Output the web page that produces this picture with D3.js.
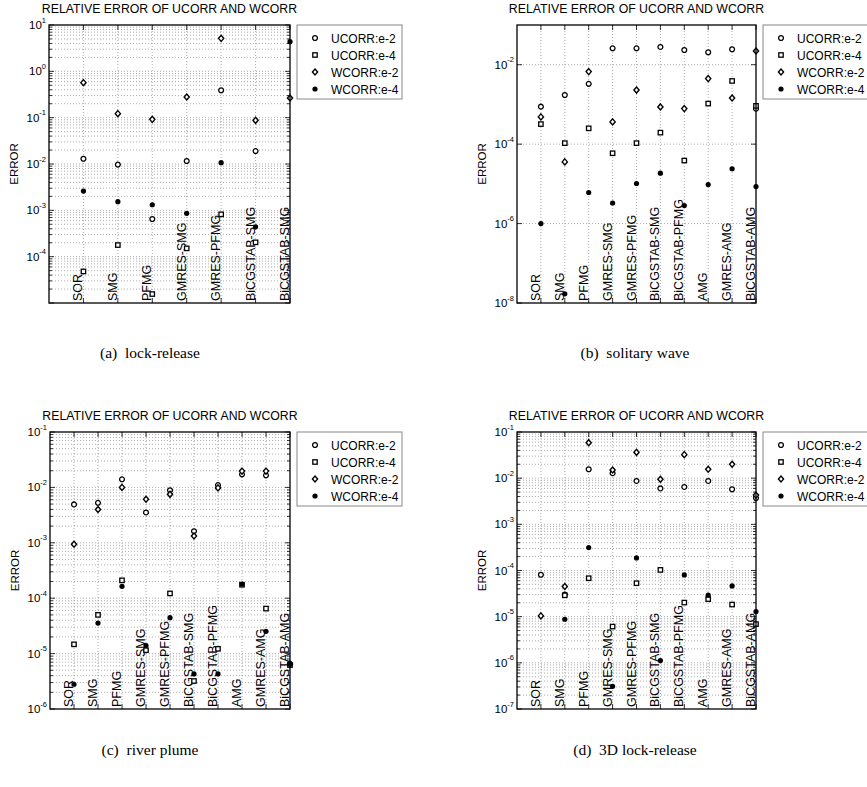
<!DOCTYPE html>
<meta charset="utf-8">
<title>Relative error of UCORR and WCORR</title>
<style>
    body { margin: 0; background: #fff; }
    text { font-family: "Liberation Sans", Arial, Helvetica, sans-serif; }
    .caption { font-family: "Liberation Serif", "Times New Roman", serif; font-size: 15.5px; }
    .grid { stroke: #8a8a8a; stroke-width: 0.7; stroke-dasharray: 1,2; fill: none; }
</style>
<body>
<script src="https://cdn.jsdelivr.net/npm/d3@7"></script>
<script>
    const width = 867, height = 787;

    // categories
    const catsA = ["SOR", "SMG", "PFMG", "GMRES-SMG", "GMRES-PFMG", "BiCGSTAB-SMG", "BiCGSTAB-SMG"];
    const cats10 = ["SOR", "SMG", "PFMG", "GMRES-SMG", "GMRES-PFMG", "BiCGSTAB-SMG",
        "BiCGSTAB-PFMG", "AMG", "GMRES-AMG", "BiCGSTAB-AMG"];
    const seriesNames = ["UCORR:e-2", "UCORR:e-4", "WCORR:e-2", "WCORR:e-4"];

    // (a) lock-release
    const aUcorr2 = [0.013, 0.0097, 6.5e-4, 0.0116, 0.39, 0.019, null];
    const aUcorr4 = [4.8e-5, 1.78e-4, 1.56e-5, 1.51e-4, 8.2e-4, 2.04e-4, null];
    const aWcorr2 = [0.57, 0.122, 0.092, 0.279, 5.15, 0.0877, 0.266];
    const aWcorr4 = [0.0026, 0.00154, 0.00132, 8.6e-4, 0.0107, 4.4e-4, 4.36];

    // (b) solitary wave
    const bUcorr2 = [8.8e-4, 1.73e-3, 3.3e-3, 0.0259, 0.0259, 0.028, 0.0235, 0.0206, 0.0245, 7.8e-4];
    const bUcorr4 = [3.2e-4, 1.06e-4, 2.5e-4, 5.9e-5, 1.06e-4, 1.95e-4, 3.86e-5, 1.05e-3, 3.9e-3, 9.2e-4];
    const bWcorr2 = [4.85e-4, 3.57e-5, 6.7e-3, 3.63e-4, 2.3e-3, 8.65e-4, 7.85e-4, 4.47e-3, 1.45e-3, 0.0222];
    const bWcorr4 = [1e-6, 1.7e-8, 6.05e-6, 3.3e-6, 1.02e-5, 1.86e-5, 2.85e-6, 9.6e-6, 2.4e-5, 8.55e-6];

    // (c) river plume
    const cUcorr2 = [4.93e-3, 5.27e-3, 0.014, 3.53e-3, 8.9e-3, 1.62e-3, 0.011, 0.0172, 0.0165, 6.4e-6];
    const cUcorr4 = [1.47e-5, 5.0e-5, 2.1e-4, 1.15e-5, 1.22e-4, 3.2e-6, 1.22e-5, 1.75e-4, 6.5e-5, 6.2e-6];
    const cWcorr2 = [9.4e-4, 4.0e-3, 0.01, 6.1e-3, 7.5e-3, 1.33e-3, 9.8e-3, 0.0197, 0.0197, 6.5e-6];
    const cWcorr4 = [2.8e-6, 3.56e-5, 1.64e-4, 1.4e-5, 4.45e-5, 4.3e-6, 4.3e-6, 1.8e-4, 2.52e-5, 6.6e-6];

    // (d) 3D lock-release
    const dUcorr2 = [8.1e-5, 3.0e-5, 0.0156, 0.0128, 8.7e-3, 6.0e-3, 6.45e-3, 8.7e-3, 5.75e-3, 3.7e-3];
    const dUcorr4 = [null, 2.9e-5, 6.8e-5, 6.1e-6, 5.3e-5, 1.03e-4, 2.02e-5, 2.4e-5, 1.83e-5, 6.9e-6];
    const dWcorr2 = [1.04e-5, 4.5e-5, 0.0587, 0.015, 0.0363, 9.5e-3, 0.0323, 0.0156, 0.02, 4.3e-3];
    const dWcorr4 = [null, 8.8e-6, 3.13e-4, 3.1e-7, 1.87e-4, 1.12e-6, 8.0e-5, 2.92e-5, 4.64e-5, 1.29e-5];

    // y tick exponents that get a label
    const aExps = [1, 0, -1, -2, -3, -4];
    const bExps = [-2, -4, -6, -8];
    const cExps = [-1, -2, -3, -4, -5, -6];
    const dExps = [-1, -2, -3, -4, -5, -6, -7];

    const captions = ["(a)\u00a0 lock-release", "(b)\u00a0 solitary wave", "(c)\u00a0 river plume", "(d)\u00a0 3D lock-release"];

    const svg = d3.select("body").append("svg")
        .attr("width", width).attr("height", height);

    // marker drawing, one per series
    function marker(g, k) {
        if (k === 0) g.append("circle").attr("r", 2.4).attr("fill", "#fff").attr("stroke", "#000").attr("stroke-width", 1.3);
        if (k === 1) g.append("rect").attr("x", -2.2).attr("y", -2.2).attr("width", 4.4).attr("height", 4.4)
            .attr("fill", "#fff").attr("stroke", "#000").attr("stroke-width", 1.3);
        if (k === 2) g.append("path").attr("d", "M0,-3L2.6,0L0,3L-2.6,0Z")
            .attr("fill", "#fff").attr("stroke", "#000").attr("stroke-width", 1.4);
        if (k === 3) g.append("circle").attr("r", 2.6).attr("fill", "#000");
    }

    function panel(p) {
        const x = d3.scaleLinear().domain([0, p.cats.length]).range([p.x0, p.x1]);
        const y = d3.scaleLog().domain(p.domain).range([p.y1, p.y0]);
        const g = svg.append("g");

        // horizontal grid
        const majors = p.exps.map(e => Math.pow(10, e));
        const gridVals = p.minor ? y.ticks() : majors;
        g.selectAll(".hg").data(gridVals.filter(v => y(v) > p.y0 + 0.5 && y(v) < p.y1 - 0.5))
            .join("line").attr("class", "grid")
            .attr("x1", p.x0).attr("x2", p.x1)
            .attr("y1", d => y(d)).attr("y2", d => y(d));

        // vertical grid at categories
        g.selectAll(".vg").data(p.cats.slice(0, p.cats.length - 1))
            .join("line").attr("class", "grid")
            .attr("x1", (d, i) => x(i + 1)).attr("x2", (d, i) => x(i + 1))
            .attr("y1", p.y0).attr("y2", p.y1);

        // y ticks, major and minor, both sides
        const tickVals = p.minor ? y.ticks() : majors;
        tickVals.forEach(v => {
            const isMajor = Math.abs(Math.log10(v) - Math.round(Math.log10(v))) < 1e-6;
            const len = isMajor ? 5 : 3;
            g.append("line").attr("x1", p.x0).attr("x2", p.x0 + len)
                .attr("y1", y(v)).attr("y2", y(v)).attr("stroke", "#000").attr("stroke-width", 0.8);
            g.append("line").attr("x1", p.x1).attr("x2", p.x1 - len)
                .attr("y1", y(v)).attr("y2", y(v)).attr("stroke", "#000").attr("stroke-width", 0.8);
        });

        // x ticks top and bottom
        p.cats.forEach((c, i) => {
            g.append("line").attr("x1", x(i + 1)).attr("x2", x(i + 1))
                .attr("y1", p.y0).attr("y2", p.y0 + 5).attr("stroke", "#000").attr("stroke-width", 0.8);
            g.append("line").attr("x1", x(i + 1)).attr("x2", x(i + 1))
                .attr("y1", p.y1).attr("y2", p.y1 - 5).attr("stroke", "#000").attr("stroke-width", 0.8);
        });

        // y tick labels 10^e
        p.exps.forEach(e => {
            const t = g.append("text").attr("x", p.x0 - 3).attr("y", y(Math.pow(10, e)) + 4)
                .attr("text-anchor", "end").attr("font-size", 11.5);
            t.append("tspan").text("10");
            t.append("tspan").attr("dy", -6.5).attr("font-size", 7.5).text(e);
        });

        // category labels, rotated inside the box
        g.selectAll(".cl").data(p.cats).join("text")
            .attr("transform", (d, i) => `translate(${x(i + 1) - 1},${p.y1 - 2}) rotate(-90)`)
            .attr("font-size", 12.5)
            .text(d => d);

        // points
        p.series.forEach((vals, k) => {
            vals.forEach((v, i) => {
                if (v == null) return;
                const m = g.append("g").attr("transform", `translate(${x(i + 1)},${y(v)})`);
                marker(m, k);
            });
        });

        // frame
        g.append("rect").attr("x", p.x0).attr("y", p.y0)
            .attr("width", p.x1 - p.x0).attr("height", p.y1 - p.y0)
            .attr("fill", "none").attr("stroke", "#000").attr("stroke-width", 1.3);

        // title and y label
        g.append("text").attr("x", (p.x0 + p.x1) / 2).attr("y", p.y0 - 12)
            .attr("text-anchor", "middle").attr("font-size", 12.3)
            .text("RELATIVE ERROR OF UCORR AND WCORR");
        g.append("text")
            .attr("transform", `translate(${p.x0 - 31},${(p.y0 + p.y1) / 2}) rotate(-90)`)
            .attr("text-anchor", "middle").attr("font-size", 11.5)
            .text("ERROR");

        // legend
        const lg = g.append("g").attr("transform", `translate(${p.x1 + 7},${p.y0})`);
        lg.append("rect").attr("width", 105).attr("height", 74)
            .attr("fill", "#fff").attr("stroke", "#888").attr("stroke-width", 1);
        seriesNames.forEach((s, k) => {
            const m = lg.append("g").attr("transform", `translate(18,${13 + k * 17})`);
            marker(m, k);
            lg.append("text").attr("x", 34).attr("y", 13 + k * 17 + 4.5)
                .attr("font-size", 12).text(s);
        });

        // caption
        svg.append("text").attr("class", "caption")
            .attr("x", p.capX).attr("y", p.capY).attr("text-anchor", "middle")
            .text(p.caption);
    }

    panel({cats: catsA, series: [aUcorr2, aUcorr4, aWcorr2, aWcorr4], exps: aExps,
        domain: [1e-5, 1e1], minor: true, x0: 49, x1: 290, y0: 25, y1: 303,
        caption: captions[0], capX: 150, capY: 358});
    panel({cats: cats10, series: [bUcorr2, bUcorr4, bWcorr2, bWcorr4], exps: bExps,
        domain: [1e-8, 1e-1], minor: false, x0: 517, x1: 756, y0: 25, y1: 303,
        caption: captions[1], capX: 635, capY: 358});
    panel({cats: cats10, series: [cUcorr2, cUcorr4, cWcorr2, cWcorr4], exps: cExps,
        domain: [1e-6, 1e-1], minor: true, x0: 50, x1: 290, y0: 432, y1: 709,
        caption: captions[2], capX: 150, capY: 755});
    panel({cats: cats10, series: [dUcorr2, dUcorr4, dWcorr2, dWcorr4], exps: dExps,
        domain: [1e-7, 1e-1], minor: true, x0: 517, x1: 756, y0: 432, y1: 709,
        caption: captions[3], capX: 635, capY: 755});
</script>
</body>
